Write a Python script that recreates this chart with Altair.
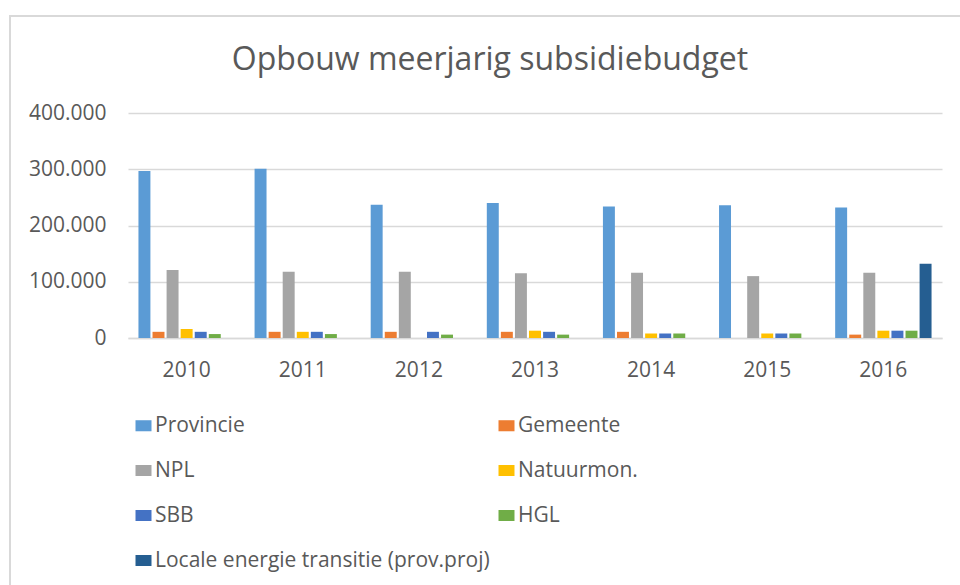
import altair as alt
import pandas as pd

years = ["2010", "2011", "2012", "2013", "2014", "2015", "2016"]
series = ["Provincie", "Gemeente", "NPL", "Natuurmon.", "SBB", "HGL",
          "Locale energie transitie (prov.proj)"]
colors = ["#5B9BD5", "#ED7D31", "#A5A5A5", "#FFC000", "#4472C4", "#70AD47", "#255E91"]

provincie = [297000, 301000, 237000, 240000, 234000, 236000, 232000]
gemeente = [11000, 11000, 11000, 11000, 11000, 0, 6000]
npl = [121000, 118000, 118000, 115000, 116000, 110000, 116000]
natuurmon = [16000, 11000, 0, 13000, 8000, 8000, 13000]
sbb = [11000, 11000, 11000, 11000, 8000, 8000, 13000]
hgl = [7000, 7000, 6000, 6000, 8000, 8000, 13000]
locale = [0, 0, 0, 0, 0, 0, 132000]

values = [provincie, gemeente, npl, natuurmon, sbb, hgl, locale]
rows = []
for s, vals in zip(series, values):
    for y, v in zip(years, vals):
        rows.append({"year": y, "series": s, "value": v})
df = pd.DataFrame(rows)

# legend is filled column by column: order entries so rows read like the reference
legend_order = [series[i] for i in (0, 2, 4, 6, 1, 3, 5)]
legend_colors = [colors[i] for i in (0, 2, 4, 6, 1, 3, 5)]

FONT = "Open Sans"
TXT = "#595959"
GRID = "#D9D9D9"
FS = 21

bars = alt.Chart(df).transform_filter("datum.value > 0").mark_bar().encode(
    x=alt.X("year:N", sort=years,
            scale=alt.Scale(paddingInner=0.17, paddingOuter=0.09),
            axis=alt.Axis(title=None, labelAngle=0, ticks=False, domain=True,
                          domainColor=GRID, domainWidth=1.5, labelPadding=21,
                          labelFontSize=FS, labelColor=TXT, labelFont=FONT)),
    xOffset=alt.XOffset("series:N", sort=series,
                        scale=alt.Scale(domain=series, paddingInner=0.15, paddingOuter=0)),
    y=alt.Y("value:Q",
            scale=alt.Scale(domain=[0, 400000], nice=False),
            axis=alt.Axis(title=None, values=[0, 100000, 200000, 300000, 400000],
                          domain=False, ticks=False, gridColor=GRID, gridWidth=1.5,
                          labelPadding=22, labelFontSize=FS, labelColor=TXT, labelFont=FONT,
                          labelExpr="replace(format(datum.value, ',d'), ',', '.')")),
    color=alt.Color("series:N",
                    scale=alt.Scale(domain=legend_order, range=legend_colors),
                    legend=alt.Legend(title=None, orient="none", legendX=5, legendY=302,
                                      columns=2, columnPadding=6, rowPadding=23,
                                      symbolType="M-1,-0.69H1V0.69H-1Z",
                                      symbolSize=256, symbolStrokeWidth=0,
                                      labelOffset=1, labelFontSize=FS, labelColor=TXT,
                                      labelFont=FONT, labelLimit=600)),
)

frame = alt.Chart(pd.DataFrame({"f": [0]})).mark_rect(
    fill=None, stroke=GRID, strokeWidth=2
).encode(
    x=alt.value(-118), x2=alt.value(900),
    y=alt.value(-97), y2=alt.value(500),
)

chart = alt.layer(frame, bars).properties(
    width=814, height=225,
    title=alt.TitleParams("Opbouw meerjarig subsidiebudget", fontSize=32,
                          font=FONT, fontWeight="normal", color=TXT,
                          anchor="middle", frame="group", offset=38, dx=-45, dy=100),
    autosize=alt.AutoSizeParams(type="none"),
    padding={"left": 128, "top": 113, "right": 18, "bottom": 247},
).configure(background="white").configure_view(stroke=None)

chart.save("out.html", embed_options={"renderer": "svg", "actions": False})
